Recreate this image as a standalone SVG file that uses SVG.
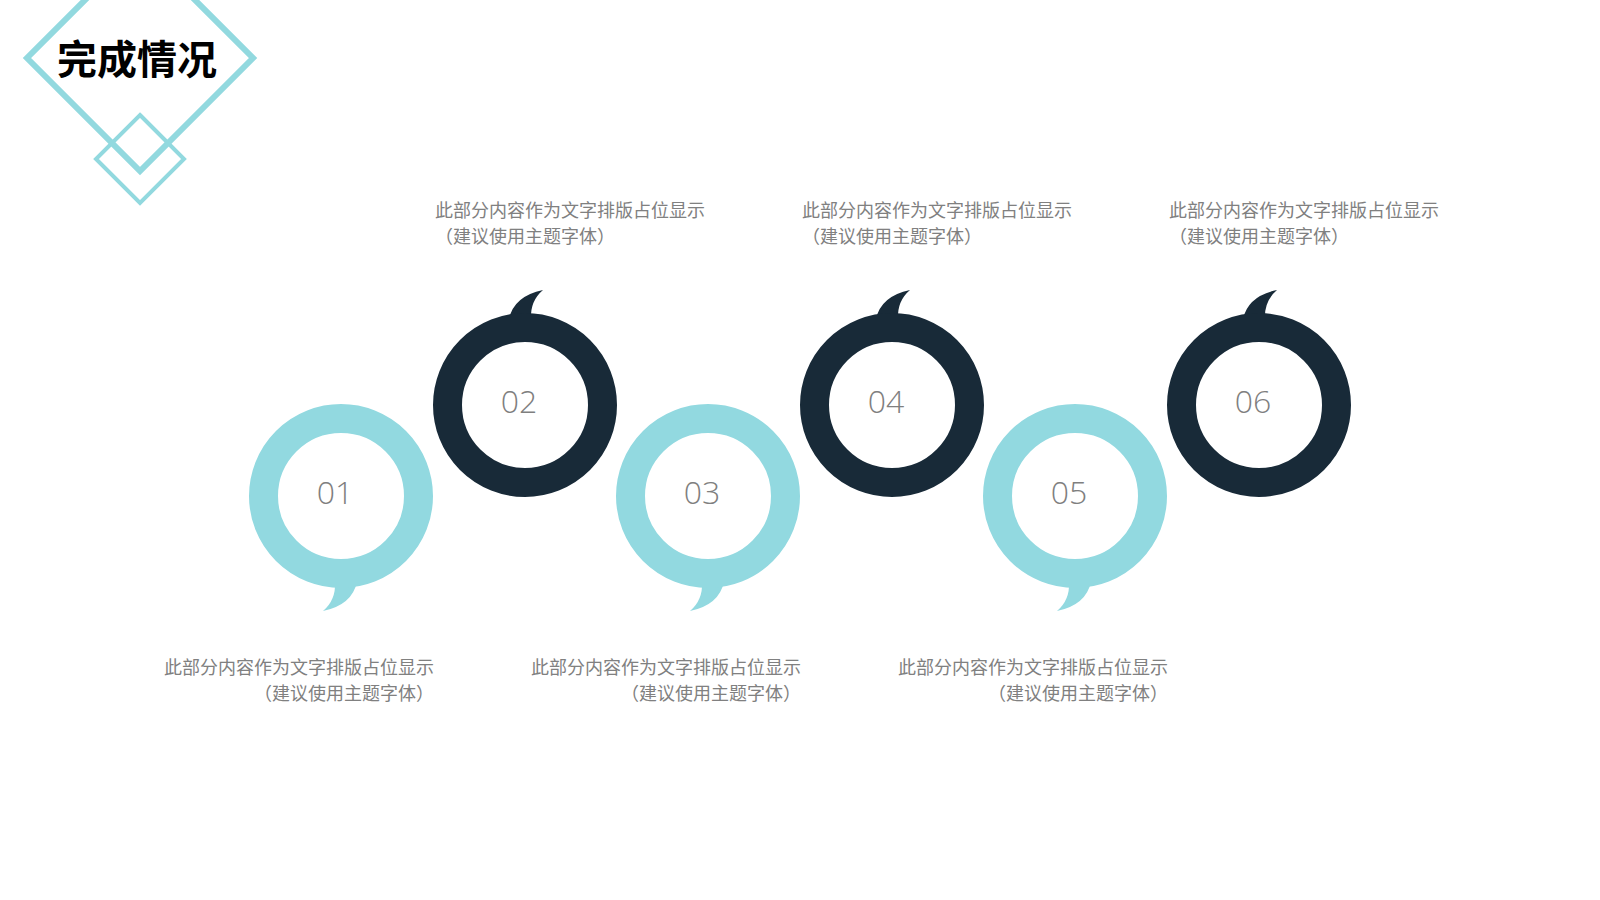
<svg xmlns="http://www.w3.org/2000/svg" width="1600" height="900" viewBox="0 0 1600 900">
<style>
.bg{fill:#ffffff}
.deco{fill:none;stroke:#92d9df}
.title{font-family:"Noto Sans CJK SC","Noto Sans",sans-serif;font-weight:700;font-size:40px;fill:#000000}
.ring-t{fill:none;stroke:#92d9e0;stroke-width:29}
.ring-d{fill:none;stroke:#182a38;stroke-width:29}
.tail-t{fill:#92d9e0}
.tail-d{fill:#182a38}
.num{font-family:"Open Sans","Noto Sans",sans-serif;font-weight:300;font-size:32px;fill:#7f7f7f;text-anchor:middle}
.desc{font-family:"Noto Sans CJK SC","Noto Sans",sans-serif;font-size:18px;fill:#808080}
.p{font-family:"Noto Sans CJK TC","Noto Sans CJK SC",sans-serif}
.end{text-anchor:end}
</style>
<defs>
<path id="tail" d="M-16,-86 Q-11,-109 18,-115 Q5,-104 6,-86 Z"/>
</defs>
<rect class="bg" x="0" y="0" width="1600" height="900"/>
<g id="header">
<polygon class="deco" stroke-width="6" points="140,-55 253,58 140,171 27,58"/>
<polygon class="deco" stroke-width="4" points="140,115 184,159 140,203 96,159"/>
<text class="title" x="57" y="74">完成情况</text>
</g>
<g id="connectors"></g>
<g id="node-01">
<use href="#tail" class="tail-t" transform="translate(341,496) rotate(180)"/>
<circle class="ring-t" cx="341" cy="496" r="77.5"/>
<text class="num" x="335" y="504">01</text>
<text class="desc end" x="434" y="674">此部分内容作为文字排版占位显示</text>
<text class="desc end" x="434" y="700"><tspan class="p">（</tspan>建议使用主题字体<tspan class="p">）</tspan></text>
</g>
<g id="node-02">
<use href="#tail" class="tail-d" transform="translate(525,405)"/>
<circle class="ring-d" cx="525" cy="405" r="77.5"/>
<text class="num" x="519" y="413">02</text>
<text class="desc" x="435" y="217">此部分内容作为文字排版占位显示</text>
<text class="desc" x="435" y="243"><tspan class="p">（</tspan>建议使用主题字体<tspan class="p">）</tspan></text>
</g>
<g id="node-03">
<use href="#tail" class="tail-t" transform="translate(708,496) rotate(180)"/>
<circle class="ring-t" cx="708" cy="496" r="77.5"/>
<text class="num" x="702" y="504">03</text>
<text class="desc end" x="801" y="674">此部分内容作为文字排版占位显示</text>
<text class="desc end" x="801" y="700"><tspan class="p">（</tspan>建议使用主题字体<tspan class="p">）</tspan></text>
</g>
<g id="node-04">
<use href="#tail" class="tail-d" transform="translate(892,405)"/>
<circle class="ring-d" cx="892" cy="405" r="77.5"/>
<text class="num" x="886" y="413">04</text>
<text class="desc" x="802" y="217">此部分内容作为文字排版占位显示</text>
<text class="desc" x="802" y="243"><tspan class="p">（</tspan>建议使用主题字体<tspan class="p">）</tspan></text>
</g>
<g id="node-05">
<use href="#tail" class="tail-t" transform="translate(1075,496) rotate(180)"/>
<circle class="ring-t" cx="1075" cy="496" r="77.5"/>
<text class="num" x="1069" y="504">05</text>
<text class="desc end" x="1168" y="674">此部分内容作为文字排版占位显示</text>
<text class="desc end" x="1168" y="700"><tspan class="p">（</tspan>建议使用主题字体<tspan class="p">）</tspan></text>
</g>
<g id="node-06">
<use href="#tail" class="tail-d" transform="translate(1259,405)"/>
<circle class="ring-d" cx="1259" cy="405" r="77.5"/>
<text class="num" x="1253" y="413">06</text>
<text class="desc" x="1169" y="217">此部分内容作为文字排版占位显示</text>
<text class="desc" x="1169" y="243"><tspan class="p">（</tspan>建议使用主题字体<tspan class="p">）</tspan></text>
</g>
</svg>
